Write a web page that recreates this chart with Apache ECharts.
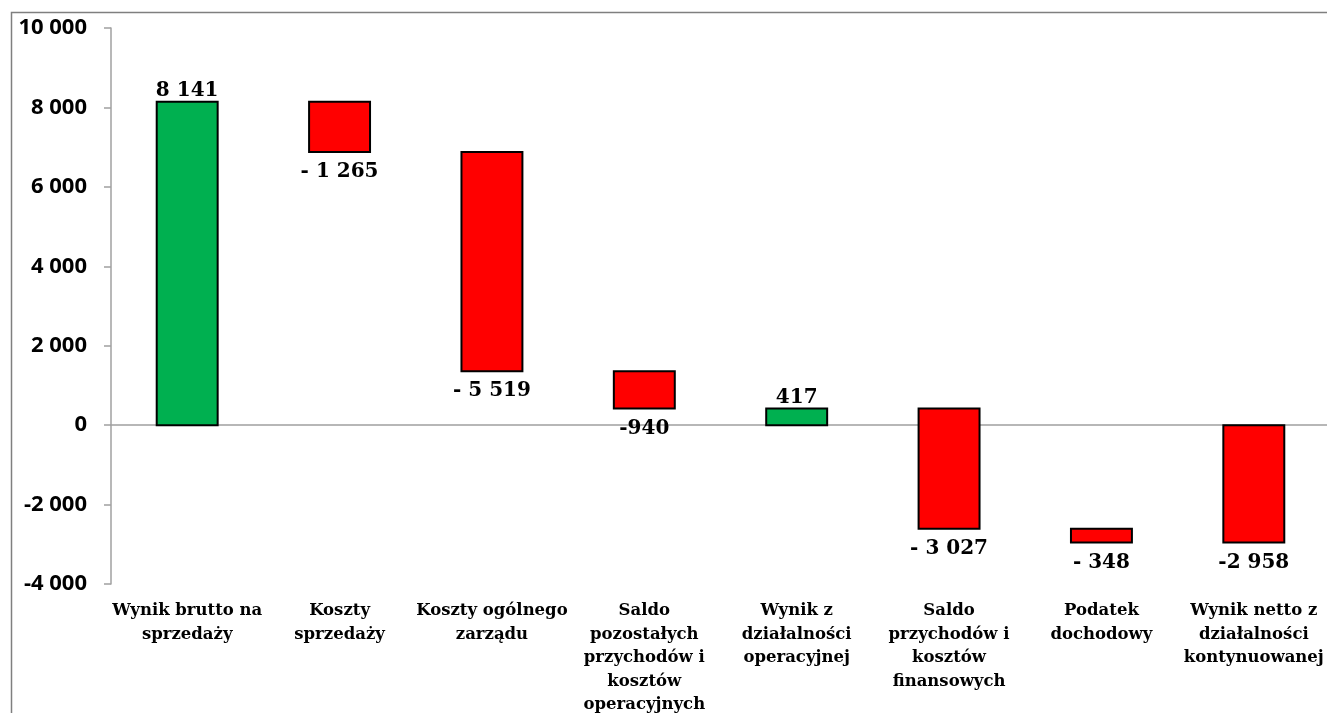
<!DOCTYPE html>
<html>
<head>
<meta charset="utf-8">
<script src="https://cdn.jsdelivr.net/npm/echarts@6/dist/echarts.min.js"></script>
<style>
  html, body { margin: 0; padding: 0; background: #fff; }
  #chart { width: 1327px; height: 713px; }
</style>
</head>
<body>
<div id="chart"></div>
<script>
const categories = [
  'Wynik brutto na\nsprzedaży',
  'Koszty\nsprzedaży',
  'Koszty ogólnego\nzarządu',
  'Saldo\npozostałych\nprzychodów i\nkosztów\noperacyjnych',
  'Wynik z\ndziałalności\noperacyjnej',
  'Saldo\nprzychodów i\nkosztów\nfinansowych',
  'Podatek\ndochodowy',
  'Wynik netto z\ndziałalności\nkontynuowanej'
];
const barStart = [0, 8141, 6876, 1357, 0, 417, -2610, 0];
const barEnd = [8141, 6876, 1357, 417, 417, -2610, -2958, -2958];
const valueLabels = ['8 141', '- 1 265', '- 5 519', '-940', '417', '- 3 027', '- 348', '-2 958'];
const yTickValues = [-4000, -2000, 0, 2000, 4000, 6000, 8000, 10000];
const yTickLabels = ['-4 000', '-2 000', '0', '2 000', '4 000', '6 000', '8 000', '10 000'];

const GREEN = '#00B050';
const RED = '#FF0000';
const serif = '"DejaVu Serif", serif';
const sans = '"Open Sans", sans-serif';

const chart = echarts.init(document.getElementById('chart'));

const data = categories.map((c, i) => [i, barStart[i], barEnd[i]]);

chart.setOption({
  animation: false,
  backgroundColor: '#fff',
  graphic: [{
    type: 'rect',
    left: 9, top: 10,
    shape: { width: 1400, height: 800 },
    style: { fill: 'none', stroke: '#7f7f7f', lineWidth: 1.5 },
    silent: true
  }],
  grid: { left: 111, top: 28, width: 1219, height: 556, containLabel: false, outerBoundsMode: 'none' },
  xAxis: [{
    type: 'category',
    data: categories,
    position: 'bottom',
    axisLine: { show: false, onZero: false },
    axisTick: { show: false },
    axisLabel: {
      interval: 0,
      margin: 15,
      color: '#000',
      fontFamily: serif,
      fontWeight: 'bold',
      fontSize: 16.5,
      lineHeight: 23.5
    }
  }, {
    type: 'category',
    data: categories,
    position: 'bottom',
    axisLine: { show: true, onZero: true, lineStyle: { color: '#a0a0a0', width: 1.5 } },
    axisTick: { show: false },
    axisLabel: { show: false }
  }],
  yAxis: {
    type: 'value',
    min: -4000,
    max: 10000,
    interval: 2000,
    axisLine: { show: true, lineStyle: { color: '#a0a0a0', width: 1.5 } },
    axisTick: { show: true, length: 7, lineStyle: { color: '#a0a0a0', width: 1.5 } },
    splitLine: { show: false },
    axisLabel: {
      margin: 24,
      color: '#000',
      fontFamily: sans,
      fontWeight: 'bold',
      fontSize: 22,
      formatter: v => {
        const idx = yTickValues.indexOf(v);
        return idx >= 0 ? yTickLabels[idx] : String(v);
      }
    }
  },
  series: [{
    type: 'custom',
    xAxisIndex: 0,
    yAxisIndex: 0,
    data: data,
    encode: { x: 0, y: [1, 2] },
    renderItem: (params, api) => {
      const i = api.value(0);
      const s = api.value(1);
      const e = api.value(2);
      const hi = Math.max(s, e), lo = Math.min(s, e);
      const pTop = api.coord([i, hi]);
      const pBot = api.coord([i, lo]);
      const w = api.size([1, 0])[0] * 0.4;
      const up = e > s;
      const label = valueLabels[params.dataIndex];
      return {
        type: 'group',
        children: [{
          type: 'rect',
          shape: { x: pTop[0] - w / 2, y: pTop[1], width: w, height: pBot[1] - pTop[1] },
          style: { fill: up ? GREEN : RED, stroke: '#000', lineWidth: 2 }
        }, {
          type: 'text',
          x: pTop[0],
          y: up ? pTop[1] - 1 : pBot[1] + 10,
          style: {
            text: label,
            align: 'center',
            verticalAlign: up ? 'bottom' : 'top',
            fill: '#000',
            font: 'bold 20px ' + serif
          },
          z2: 10
        }]
      };
    }
  }]
});
</script>
</body>
</html>
